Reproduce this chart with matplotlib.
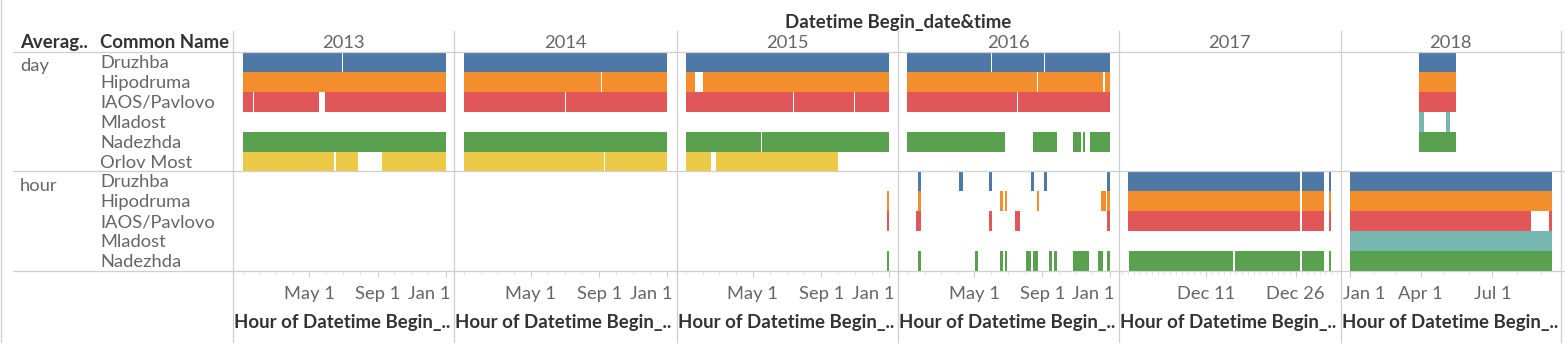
import matplotlib
matplotlib.use("Agg")
import matplotlib.pyplot as plt
import matplotlib.dates as mdates
from matplotlib.lines import Line2D
from matplotlib.transforms import Affine2D
import pandas as pd

W, H = 1565, 356

YEARS = [2013, 2014, 2015, 2016, 2017, 2018]
DAY_NAMES = ["Druzhba", "Hipodruma", "IAOS/Pavlovo", "Mladost", "Nadezhda", "Orlov Most"]
HOUR_NAMES = ["Druzhba", "Hipodruma", "IAOS/Pavlovo", "Mladost", "Nadezhda"]

# (start, end) of continuous coverage
DAY_DRUZHBA = [
    ("2013-01-01", "2013-06-29"), ("2013-07-01", "2014-01-01"),
    ("2014-01-01", "2015-01-01"),
    ("2015-01-01", "2016-01-01"),
    ("2016-01-01", "2016-05-31"), ("2016-06-02", "2016-09-05"), ("2016-09-07", "2017-01-01"),
    ("2018-03-30", "2018-05-16"),
]
DAY_HIPODRUMA = [
    ("2013-01-01", "2014-01-01"),
    ("2014-01-01", "2014-09-04"), ("2014-09-06", "2015-01-01"),
    ("2015-01-01", "2015-01-17"), ("2015-01-31", "2016-01-01"),
    ("2016-01-01", "2016-08-22"), ("2016-08-24", "2016-12-21"), ("2016-12-23", "2017-01-01"),
    ("2018-03-30", "2018-05-16"),
]
DAY_IAOS = [
    ("2013-01-01", "2013-01-19"), ("2013-01-22", "2013-05-18"), ("2013-05-30", "2014-01-01"),
    ("2014-01-01", "2014-07-01"), ("2014-07-03", "2015-01-01"),
    ("2015-01-01", "2015-07-12"), ("2015-07-14", "2015-10-30"), ("2015-11-01", "2016-01-01"),
    ("2016-01-01", "2016-07-17"), ("2016-07-19", "2017-01-01"),
    ("2018-03-30", "2018-05-16"),
]
DAY_MLADOST = [
    ("2018-03-30", "2018-04-05"), ("2018-05-03", "2018-05-08"),
]
DAY_NADEZHDA = [
    ("2013-01-01", "2014-01-01"),
    ("2014-01-01", "2015-01-01"),
    ("2015-01-01", "2015-05-16"), ("2015-05-18", "2016-01-01"),
    ("2016-01-01", "2016-06-26"), ("2016-08-16", "2016-09-27"), ("2016-10-26", "2016-11-11"),
    ("2016-11-14", "2016-11-18"), ("2016-11-27", "2017-01-01"),
    ("2018-03-30", "2018-05-16"),
]
DAY_ORLOV = [
    ("2013-01-01", "2013-06-15"), ("2013-06-19", "2013-07-28"), ("2013-09-09", "2014-01-01"),
    ("2014-01-01", "2014-09-09"), ("2014-09-11", "2015-01-01"),
    ("2015-01-01", "2015-02-15"), ("2015-02-24", "2015-10-02"),
]

HOUR_DRUZHBA = [
    ("2016-01-20", "2016-01-26"), ("2016-04-04", "2016-04-10"), ("2016-05-28", "2016-06-03"),
    ("2016-08-12", "2016-08-18"), ("2016-09-05", "2016-09-10"), ("2016-12-28", "2017-01-01"),
    ("2017-11-28", "2017-12-26 16:00"), ("2017-12-27", "2017-12-30 20:00"),
    ("2017-12-31 16:00", "2018-01-01"),
    ("2018-01-01", "2018-09-15"),
]
HOUR_HIPODRUMA = [
    ("2015-12-29", "2016-01-01"),
    ("2016-01-20", "2016-01-26"), ("2016-06-17", "2016-06-22"), ("2016-06-26", "2016-06-30"),
    ("2016-08-23", "2016-08-27"), ("2016-12-17", "2016-12-26"), ("2016-12-28", "2017-01-01"),
    ("2017-11-28", "2017-12-26 16:00"), ("2017-12-27", "2017-12-30 20:00"),
    ("2017-12-31 16:00", "2018-01-01"),
    ("2018-01-01", "2018-09-15"),
]
HOUR_IAOS = [
    ("2015-12-29", "2016-01-01"),
    ("2016-01-17", "2016-01-26"), ("2016-05-28", "2016-06-03"), ("2016-07-13", "2016-07-17"),
    ("2016-07-18", "2016-07-22"), ("2016-12-28", "2017-01-01"),
    ("2017-11-28", "2017-12-26 16:00"), ("2017-12-27", "2017-12-30 20:00"),
    ("2017-12-31 16:00", "2018-01-01"),
    ("2018-01-01", "2018-08-19"), ("2018-09-11", "2018-09-15"),
]
HOUR_MLADOST = [
    ("2018-01-01", "2018-09-15"),
]
HOUR_NADEZHDA = [
    ("2015-12-29", "2016-01-01"),
    ("2016-01-21", "2016-01-26"), ("2016-05-03", "2016-05-07"), ("2016-06-17", "2016-06-22"),
    ("2016-06-26", "2016-06-30"), ("2016-08-03", "2016-08-11"), ("2016-08-16", "2016-08-20"),
    ("2016-08-21", "2016-08-25"), ("2016-09-14", "2016-09-18"), ("2016-09-23", "2016-09-27"),
    ("2016-10-26", "2016-10-30"), ("2016-10-31", "2016-11-24"), ("2016-12-12", "2016-12-21"),
    ("2016-12-28", "2017-01-01"),
    ("2017-11-28 04:00", "2017-12-15 12:00"), ("2017-12-15 20:00", "2017-12-26 16:00"),
    ("2017-12-27", "2017-12-30 20:00"), ("2017-12-31 16:00", "2018-01-01"),
    ("2018-01-01", "2018-09-15"),
]

TICK_DATES = [
    ["2013-05-01", "2013-09-01", "2014-01-01"],
    ["2014-05-01", "2014-09-01", "2015-01-01"],
    ["2015-05-01", "2015-09-01", "2016-01-01"],
    ["2016-05-01", "2016-09-01", "2017-01-01"],
    ["2017-12-11", "2017-12-26"],
    ["2018-01-01", "2018-04-01", "2018-07-01"],
]
TICK_LABELS = [
    ["May 1", "Sep 1", "Jan 1"],
    ["May 1", "Sep 1", "Jan 1"],
    ["May 1", "Sep 1", "Jan 1"],
    ["May 1", "Sep 1", "Jan 1"],
    ["Dec 11", "Dec 26"],
    ["Jan 1", "Apr 1", "Jul 1"],
]

COLORS = {
    "Druzhba": "#4e79a7",
    "Hipodruma": "#f28e2b",
    "IAOS/Pavlovo": "#e15759",
    "Mladost": "#76b7b2",
    "Nadezhda": "#59a14f",
    "Orlov Most": "#edc948",
}

ROWS = (
    [("day", n, d) for n, d in zip(DAY_NAMES, [DAY_DRUZHBA, DAY_HIPODRUMA, DAY_IAOS,
                                               DAY_MLADOST, DAY_NADEZHDA, DAY_ORLOV])]
    + [("hour", n, d) for n, d in zip(HOUR_NAMES, [HOUR_DRUZHBA, HOUR_HIPODRUMA, HOUR_IAOS,
                                                   HOUR_MLADOST, HOUR_NADEZHDA])]
)

# layout in pixels
COL_EDGES = [233, 454.5, 676.5, 898, 1118.5, 1340.5, 1561]
TOP, BOTTOM = 52, 271
ROW_H = (BOTTOM - TOP) / len(ROWS)
GRID = "#cfcfcf"
LABEL = "#666666"
HEAD = "#333333"
FS = 13.2       # regular labels
FSB = 13.4      # bold headers

plt.rcParams["font.family"] = ["Lato", "DejaVu Sans"]


def fx(x):
    return x / W


def fy(y):
    return 1 - y / H


def year_spans(intervals, year):
    lo = pd.Timestamp(f"{year}-01-01")
    hi = pd.Timestamp(f"{year + 1}-01-01")
    out = []
    for a, b in intervals:
        a, b = pd.Timestamp(a), pd.Timestamp(b)
        if a < lo or a >= hi:
            continue
        out.append((a, min(b, hi)))
    return out


fig = plt.figure(figsize=(W / 100, H / 100), dpi=100)

edge_labels = []
for ci, year in enumerate(YEARS):
    x0, x1 = COL_EDGES[ci], COL_EDGES[ci + 1]
    ax = fig.add_axes([fx(x0), fy(BOTTOM), fx(x1 - x0), (BOTTOM - TOP) / H])
    ax.set_ylim(len(ROWS), 0)
    starts, ends = [], []
    for ri, (_, name, data) in enumerate(ROWS):
        spans = year_spans(data, year)
        if not spans:
            continue
        xr = [(mdates.date2num(a), mdates.date2num(b) - mdates.date2num(a)) for a, b in spans]
        ax.broken_barh(xr, (ri, 1), facecolors=COLORS[name], edgecolor="none", linewidth=0)
        starts += [s for s, _ in xr]
        ends += [s + w for s, w in xr]
    lo, hi = min(starts), max(ends)
    span = hi - lo
    ax.set_xlim(lo - span * 9.5 / 203, hi + span * 9.0 / 203)

    for s in ax.spines.values():
        s.set_visible(False)
    ax.set_yticks([])
    ax.set_facecolor("none")
    ticks = [mdates.date2num(pd.Timestamp(t)) for t in TICK_DATES[ci]]
    ax.set_xticks(ticks)
    ax.set_xticklabels([])
    if year == 2017:
        ax.xaxis.set_minor_locator(mdates.DayLocator())
    else:
        ax.xaxis.set_minor_locator(mdates.MonthLocator())
    ax.tick_params(axis="x", which="major", length=4, width=0.8, color=GRID)
    ax.tick_params(axis="x", which="minor", length=3, width=0.6, color="#e2e2e2")
    for t, lab in zip(ticks, TICK_LABELS[ci]):
        txt = ax.text(t, -(299 - BOTTOM) / (BOTTOM - TOP), lab, transform=ax.get_xaxis_transform(),
                      ha="center", va="baseline", fontsize=FS, color=LABEL, clip_on=False)
        edge_labels.append((ax, txt))

    # year header and axis title
    fig.text(fx((x0 + x1) / 2), fy(48), str(year), ha="center", va="baseline",
             fontsize=FS, color=LABEL)
    fig.text(fx(x0 + 1), fy(328), "Hour of Datetime Begin_..", ha="left", va="baseline",
             fontsize=FSB, fontweight="bold", color=HEAD)

# row headers
fig.text(fx(20), fy(48), "Averag..", ha="left", va="baseline", fontsize=FSB,
         fontweight="bold", color=HEAD)
fig.text(fx(100), fy(48), "Common Name", ha="left", va="baseline", fontsize=FSB,
         fontweight="bold", color=HEAD)
fig.text(fx(898), fy(28), "Datetime Begin_date&time", ha="center", va="baseline",
         fontsize=FSB, fontweight="bold", color=HEAD)

prev = None
for ri, (section, name, _) in enumerate(ROWS):
    top = TOP + ri * ROW_H
    fig.text(fx(100), fy(top + 16), name, ha="left", va="baseline", fontsize=FS, color=LABEL)
    if section != prev:
        fig.text(fx(20), fy(top + 19.5), section, ha="left", va="baseline", fontsize=FS,
                 color=LABEL)
        prev = section

# grid lines
n_day = len(DAY_NAMES)
for y in (TOP, TOP + n_day * ROW_H, BOTTOM):
    fig.add_artist(Line2D([fx(13), fx(W)], [fy(y), fy(y)], color=GRID, lw=0.9))
for x in COL_EDGES:
    fig.add_artist(Line2D([fx(x), fx(x)], [fy(31), fy(342)], color=GRID, lw=0.9))
fig.add_artist(Line2D([fx(1), fx(1)], [fy(0), fy(342)], color=GRID, lw=0.9))

# keep tick labels inside their pane, like Tableau does
fig.canvas.draw()
renderer = fig.canvas.get_renderer()
for ax, txt in edge_labels:
    bb = txt.get_window_extent(renderer)
    abb = ax.get_window_extent(renderer)
    shift = 0
    if bb.x1 > abb.x1 - 4:
        shift = abb.x1 - 4 - bb.x1
    elif bb.x0 < abb.x0 + 2.5:
        shift = abb.x0 + 2.5 - bb.x0
    if shift:
        txt.set_transform(txt.get_transform() + Affine2D().translate(shift, 0))

fig.savefig("out.png", dpi=100)
